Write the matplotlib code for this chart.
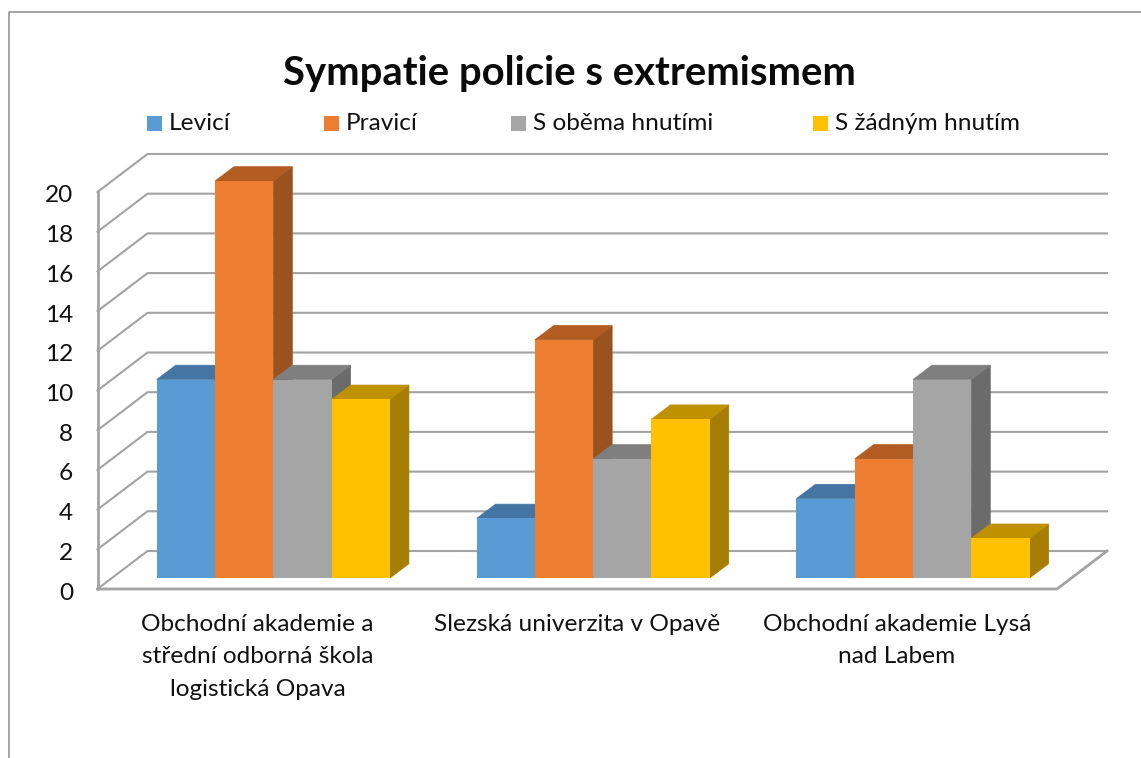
import matplotlib
matplotlib.use("Agg")
import matplotlib.pyplot as plt
from matplotlib.lines import Line2D
from matplotlib.patches import Rectangle
from matplotlib.transforms import ScaledTranslation

plt.rcParams['font.family'] = ['Lato', 'DejaVu Sans']

title = "Sympatie policie s extremismem"
categories = ["Obchodní akademie a\nstřední odborná škola\nlogistická Opava",
              "Slezská univerzita v Opavě",
              "Obchodní akademie Lysá\nnad Labem"]
series = ["Levicí", "Pravicí", "S oběma hnutími", "S žádným hnutím"]
levici = [10, 3, 4]
pravici = [20, 12, 6]
s_obema = [10, 6, 10]
s_zadnym = [9, 8, 2]
values = [levici, pravici, s_obema, s_zadnym]
yticks = list(range(0, 21, 2))

front_colors = ["#5B9BD5", "#ED7D31", "#A5A5A5", "#FFC000"]
top_colors = ["#4576A3", "#B35C21", "#7F7F7F", "#BF9000"]
side_colors = ["#3F6C96", "#9A531F", "#6B6B6B", "#A67D00"]
legend_x = [147, 324, 511, 813]

W, H = 1141, 758
fig = plt.figure(figsize=(W / 100, H / 100), dpi=100, facecolor="white")

L, R, T, B = 97.5, 1057.0, 192.0, 589.0
ax = fig.add_axes([L / W, 1 - B / H, (R - L) / W, (B - T) / H])
ax.set_xlim(0, 3)
ax.set_ylim(0, 20)
ax.patch.set_visible(False)
for s in ax.spines.values():
    s.set_visible(False)

PX = 3 / (R - L)          # data x per pixel
PY = 20 / (B - T)         # data y per pixel

GRID = "#A3A3A3"
wx, wy = 50 * PX, 38 * PY
for v in yticks:
    ax.plot([0, wx, 3 + wx], [v, v + wy, v + wy], color=GRID, lw=1.5, clip_on=False, zorder=1,
            solid_joinstyle="miter")
ax.plot([0, 0], [0, 20], color=GRID, lw=2, clip_on=False, zorder=1)
ax.plot([0, 3, 3 + wx], [0, 0, wy], color=GRID, lw=2, clip_on=False, zorder=1,
        solid_joinstyle="miter")

bw = 58.3 * PX
ox, oy = 15.9 * PX, 11 * PY
dx, dy = 19 * PX, 14.3 * PY
z = 3
for c in range(len(categories)):
    x0 = c + 0.5 - 2 * bw + ox
    for i in range(len(series)):
        v = values[i][c]
        xl = x0 + i * bw
        xr = xl + bw
        y0 = oy
        y1 = oy + v
        ax.fill([xr, xr + dx, xr + dx, xr], [y0, y0 + dy, y1 + dy, y1],
                color=side_colors[i], lw=0.5, clip_on=False, zorder=z)
        ax.fill([xl, xl + dx, xr + dx, xr], [y1, y1 + dy, y1 + dy, y1],
                color=top_colors[i], lw=0.5, clip_on=False, zorder=z)
        ax.bar(xl, v, width=bw, bottom=y0, align="edge", color=front_colors[i],
               lw=0, clip_on=False, zorder=z + 0.5)
        z += 1

ax.set_yticks(yticks)
ax.set_xticks([0.5, 1.5, 2.5])
ax.set_xticklabels(categories, linespacing=1.7)
ax.tick_params(axis="y", length=0, pad=17.5, labelsize=17.6, labelcolor="#111111")
ax.tick_params(axis="x", length=0, pad=17.7, labelsize=17.6, labelcolor="#111111")
shift = ScaledTranslation(0, -2 / 100, fig.dpi_scale_trans)
for lab in ax.get_yticklabels():
    lab.set_transform(lab.get_transform() + shift)

fig.text(569 / W, 1 - 73 / H, title, ha="center", va="center", fontsize=28.8,
         fontweight="bold", color="#0a0a0a")

for lx, name, col in zip(legend_x, series, front_colors):
    fig.add_artist(Rectangle((lx / W, 1 - 131 / H), 15 / W, 15 / H, transform=fig.transFigure,
                             facecolor=col, edgecolor="none"))
    fig.text((lx + 22) / W, 1 - 123.5 / H, name, ha="left", va="center", fontsize=17.6,
             color="#111111")

fig.add_artist(Line2D([8.5 / W, 8.5 / W, 1], [0, 1 - 11.5 / H, 1 - 11.5 / H],
                      transform=fig.transFigure, color="#8C8C8C", lw=1.1))

fig.savefig("out.png", dpi=100)
